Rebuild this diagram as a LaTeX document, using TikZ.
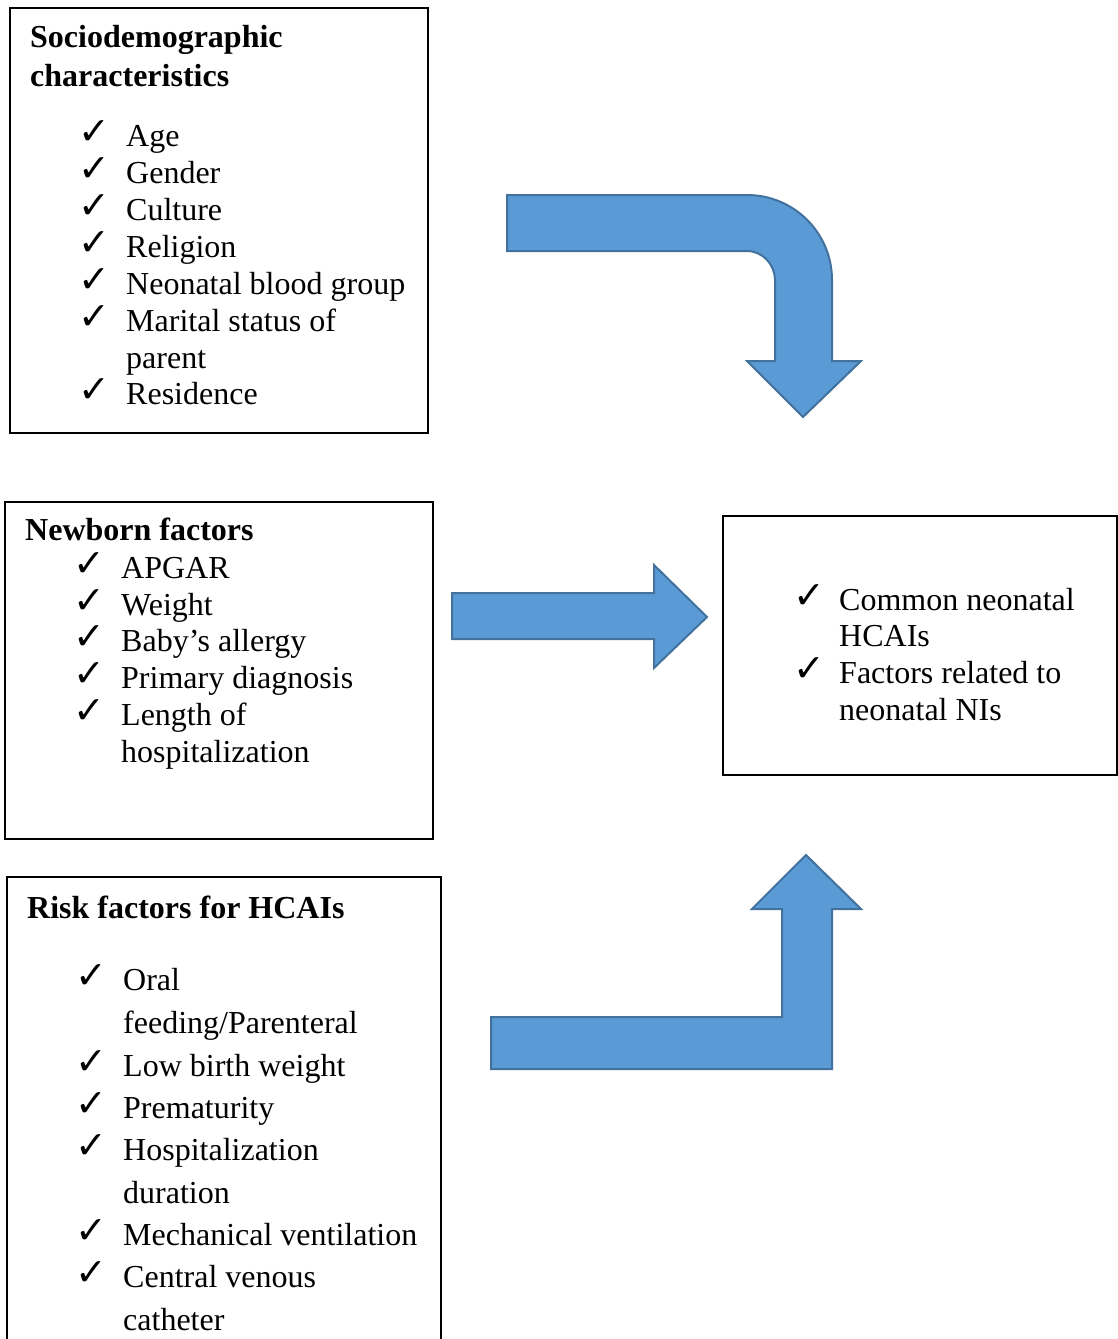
\documentclass[tikz,border=0pt]{standalone}
\usepackage{fontspec}
\setmainfont{Liberation Serif}
\newfontfamily\chkfont{DejaVu Sans}
\definecolor{arrowfill}{HTML}{5B9BD5}
\definecolor{arrowline}{HTML}{41719C}
\begin{document}
\begin{tikzpicture}[x=1pt,y=-1pt,
  txt/.style={anchor=base west, inner sep=0pt, font=\fontsize{32}{37}\selectfont},
  headtxt/.style={anchor=base west, inner sep=0pt, font=\fontsize{32}{37}\selectfont\bfseries},
  tick/.style={anchor=base west, inner sep=0pt, font=\chkfont\fontsize{38}{38}\selectfont},
  boxline/.style={draw=black, line width=2pt},
  blockarrow/.style={fill=arrowfill, draw=arrowline, line width=2pt, line join=miter}]
\useasboundingbox (0,0) rectangle (1117,1339);

% ---------- Box 1: Sociodemographic ----------
\node[boxline, anchor=north west, minimum width=418pt, minimum height=425pt, inner sep=0pt] (socio) at (9,7) {};
\node[headtxt] (s0) at (30,47) {Sociodemographic};
\node[headtxt] (s00) at (30,86) {characteristics};
\foreach \y/\t [count=\i] in {146/Age,183/Gender,220/Culture,257/Religion,294/Neonatal blood group,331/Marital status of}{
  \node[tick] (sc\i) at (78,\y-2) {✓};
  \node[txt] (st\i) at (126,\y) {\t};
}
\node[txt] (st7) at (126,368) {parent};
\node[tick] (sc8) at (78,402) {✓};
\node[txt] (st8) at (126,404) {Residence};

% ---------- Box 2: Newborn factors ----------
\node[boxline, anchor=north west, minimum width=428pt, minimum height=337pt, inner sep=0pt] (newborn) at (4,501) {};
\node[headtxt] (n0) at (25,540) {Newborn factors};
\foreach \y/\t [count=\i] in {578/APGAR,615/Weight,651/Baby’s allergy,688/Primary diagnosis,725/Length of}{
  \node[tick] (nc\i) at (73,\y-2) {✓};
  \node[txt] (nt\i) at (121,\y) {\t};
}
\node[txt] (nt6) at (121,762) {hospitalization};

% ---------- Box 3: outcome ----------
\node[boxline, anchor=north west, minimum width=394pt, minimum height=259pt, inner sep=0pt] (outcome) at (722,515) {};
\node[tick] (oc1) at (793,608) {✓};
\node[txt] (ot1) at (839,610) {Common neonatal};
\node[txt] (ot2) at (839,646) {HCAIs};
\node[tick] (oc2) at (793,681) {✓};
\node[txt] (ot3) at (839,683) {Factors related to};
\node[txt] (ot4) at (839,720) {neonatal NIs};

% ---------- Box 4: Risk factors (open at bottom) ----------
\draw[boxline] (7,1345) -- (7,877) -- (441,877) -- (441,1345);
\node[headtxt] (r0) at (27,918) {Risk factors for HCAIs};
\node[tick] (rc1) at (75,988) {✓};
\node[txt] (rt1) at (123,990) {Oral};
\node[txt] (rt2) at (123,1033) {feeding/Parenteral};
\node[tick] (rc2) at (75,1074) {✓};
\node[txt] (rt3) at (123,1076) {Low birth weight};
\node[tick] (rc3) at (75,1116) {✓};
\node[txt] (rt4) at (123,1118) {Prematurity};
\node[tick] (rc4) at (75,1158) {✓};
\node[txt] (rt5) at (123,1160) {Hospitalization};
\node[txt] (rt6) at (123,1203) {duration};
\node[tick] (rc5) at (75,1243) {✓};
\node[txt] (rt7) at (123,1245) {Mechanical ventilation};
\node[tick] (rc6) at (75,1285) {✓};
\node[txt] (rt8) at (123,1287) {Central venous};
\node[txt] (rt9) at (123,1330) {catheter};

% ---------- Block arrows ----------
\draw[blockarrow] (507,195) -- (747,195)
  .. controls (794,195) and (832,233) .. (832,280)
  -- (832,361) -- (861,361) -- (803,417) -- (747,361) -- (775,361) -- (775,280)
  .. controls (775,264.5) and (762.5,251) .. (747,251)
  -- (507,251) -- cycle;
\draw[blockarrow] (452,593) -- (654,593) -- (654,565) -- (707,617) -- (654,668) -- (654,639) -- (452,639) -- cycle;
\draw[blockarrow] (491,1017) -- (782,1017) -- (782,909) -- (752,909) -- (806,855) -- (861,909) -- (832,909) -- (832,1069) -- (491,1069) -- cycle;
\end{tikzpicture}
\end{document}
